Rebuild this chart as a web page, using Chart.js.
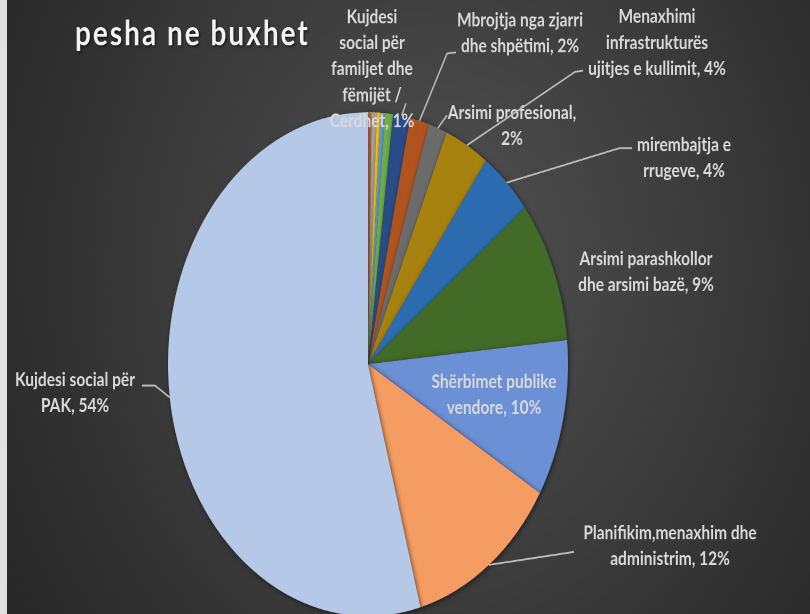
<!DOCTYPE html>
<html>
<head>
<meta charset="utf-8">
<script src="https://cdn.jsdelivr.net/npm/chart.js@4.4.1/dist/chart.umd.min.js"></script>
<style>
    html, body { margin: 0; padding: 0; width: 810px; height: 614px; background: #262626; overflow: hidden; }
    #frame { position: relative; width: 810px; height: 614px; overflow: hidden; }
    /* the original picture is stretched vertically, so the whole chart is too */
    #wrap { position: absolute; left: 0; top: 0; width: 810px; height: 490px; transform: scaleY(1.26); transform-origin: 0 0; }
</style>
</head>
<body>
<div id="frame"><div id="wrap"><canvas id="pieChart" width="810" height="490"></canvas></div></div>
<script>
// Budget shares (%), clockwise from 12 o'clock
const categories = [
    "Zë tjetër 1", "Zë tjetër 2", "Zë tjetër 3", "Zë tjetër 4", "Zë tjetër 5",
    "Kujdesi social për familjet dhe fëmijët / Cerdhet",
    "Mbrojtja nga zjarri dhe shpëtimi",
    "Arsimi profesional",
    "Menaxhimi infrastrukturës ujitjes e kullimit",
    "mirembajtja e rrugeve",
    "Arsimi parashkollor dhe arsimi bazë",
    "Shërbimet publike vendore",
    "Planifikim,menaxhim dhe administrim",
    "Kujdesi social për PAK"
];
const shares = [0.28, 0.42, 0.30, 0.36, 0.64, 1.36, 1.56, 1.50, 3.60, 4.30, 9.10, 10.05, 12.20, 54.10];
const sliceColors = [
    "#D9743A", "#A5A5A5", "#FFC000", "#5B9BD5", "#70AD47",
    "#2A4C86", "#B0531F", "#6B6B6B", "#A8820E", "#2C6CB0",
    "#426B27", "#6C90D6", "#F49C62", "#B6C8E8"
];

// Label lines as shown in the picture; {p} is the computed percentage
const labelLines = {
    5: ["Kujdesi", "social për", "familjet dhe", "fëmijët /", "Cerdhet, {p}"],
    6: ["Mbrojtja nga zjarri", "dhe shpëtimi, {p}"],
    7: ["Arsimi profesional,", "{p}"],
    8: ["Menaxhimi", "infrastrukturës", "ujitjes e kullimit, {p}"],
    9: ["mirembajtja e", "rrugeve, {p}"],
    10: ["Arsimi parashkollor", "dhe arsimi bazë, {p}"],
    11: ["Shërbimet publike", "vendore, {p}"],
    12: ["Planifikim,menaxhim dhe", "administrim, {p}"],
    13: ["Kujdesi social për", "PAK, {p}"]
};

// Label placement (unstretched canvas coordinates) and leader line bends
const labelPlace = {
    5: { x: 372, y: 13.5, leader: [[406, 82]] },
    6: { x: 520, y: 16, leader: [[447, 42.5], [456, 41.5]] },
    7: { x: 512, y: 89.5, leader: [[447, 91.5]] },
    8: { x: 657, y: 13.2, leader: [[575, 57], [583, 56]] },
    9: { x: 684, y: 115, leader: [[620, 117.5], [632, 117.5]] },
    10: { x: 646, y: 205.5 },
    11: { x: 494, y: 303 },
    12: { x: 670, y: 423, leader: [[574, 438]] },
    13: { x: 75, y: 301.5, leader: [[155, 306], [142, 306]] }
};

const backgroundPlugin = {
    id: "background",
    beforeDraw(chart) {
        const ctx = chart.ctx;
        ctx.save();
        const g = ctx.createRadialGradient(440, 210, 10, 440, 210, 560);
        g.addColorStop(0, "#515151");
        g.addColorStop(1, "#232323");
        ctx.fillStyle = g;
        ctx.fillRect(0, 0, chart.width, chart.height);
        ctx.fillStyle = "#e1e1e1";
        ctx.fillRect(0, 0, 7, chart.height);

        // title
        ctx.font = "bold 28px Lato";
        ctx.letterSpacing = "2px";
        ctx.textAlign = "left";
        ctx.textBaseline = "alphabetic";
        ctx.shadowColor = "rgba(0,0,0,0.7)";
        ctx.shadowBlur = 4;
        ctx.shadowOffsetX = 2;
        ctx.shadowOffsetY = 2;
        ctx.fillStyle = "#f2f2f2";
        ctx.fillText("pesha ne buxhet", 75, 36);
        ctx.restore();
    },
    beforeDatasetsDraw(chart) {
        const ctx = chart.ctx;
        ctx.save();
        ctx.shadowColor = "rgba(0,0,0,0.55)";
        ctx.shadowBlur = 8;
        ctx.shadowOffsetX = 2;
        ctx.shadowOffsetY = 2;
    },
    afterDatasetsDraw(chart) {
        chart.ctx.restore();
    }
};

const labelPlugin = {
    id: "sliceLabels",
    afterDraw(chart) {
        const ctx = chart.ctx;
        const meta = chart.getDatasetMeta(0);
        const values = chart.data.datasets[0].data;
        const total = values.reduce((a, b) => a + b, 0);
        const lineH = 20.6;

        ctx.save();
        meta.data.forEach((arc, i) => {
            const place = labelPlace[i];
            if (!place) return;
            const p = arc.getProps(["x", "y", "startAngle", "endAngle", "outerRadius"], true);
            const mid = (p.startAngle + p.endAngle) / 2;

            // leader line from the middle of the slice's outer edge
            if (place.leader) {
                ctx.strokeStyle = "#bdbdbd";
                ctx.lineWidth = 1.4;
                ctx.beginPath();
                ctx.moveTo(p.x + Math.cos(mid) * p.outerRadius, p.y + Math.sin(mid) * p.outerRadius);
                place.leader.forEach(pt => ctx.lineTo(pt[0], pt[1]));
                ctx.stroke();
            }

            const pct = Math.round(values[i] / total * 100) + "%";
            ctx.font = "bold 15.5px Lato";
            ctx.fillStyle = "#d9d9d9";
            ctx.textAlign = "center";
            ctx.textBaseline = "middle";
            labelLines[i].forEach((line, k) => {
                ctx.fillText(line.replace("{p}", pct), place.x, place.y + k * lineH);
            });
        });
        ctx.restore();
    }
};

new Chart(document.getElementById("pieChart"), {
    type: "pie",
    data: {
        labels: categories,
        datasets: [{
            data: shares,
            backgroundColor: sliceColors,
            borderWidth: 0
        }]
    },
    options: {
        responsive: false,
        animation: false,
        devicePixelRatio: 2,
        layout: { padding: { left: 168, right: 242, top: 89, bottom: 1 } },
        plugins: {
            legend: { display: false },
            tooltip: { enabled: false }
        }
    },
    plugins: [backgroundPlugin, labelPlugin]
});
</script>
</body>
</html>
